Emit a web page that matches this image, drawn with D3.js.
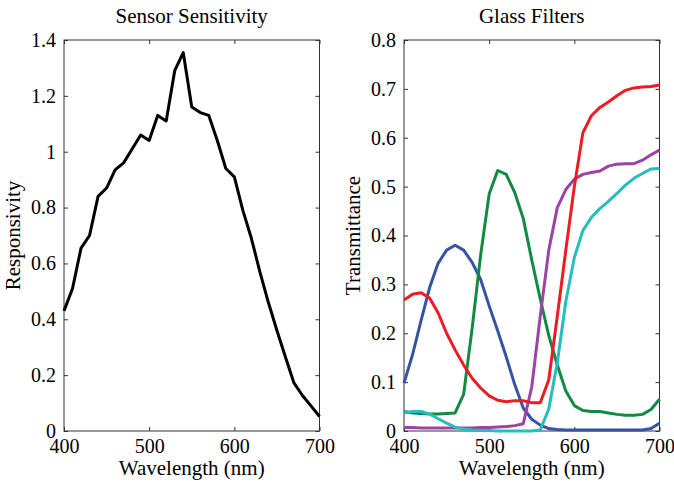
<!DOCTYPE html>
<html>
<head>
<meta charset="utf-8">
<script src="https://cdn.jsdelivr.net/npm/d3@7"></script>
<style>
  body { margin: 0; background: #fff; }
  svg text { font-family: "Liberation Serif", "Times New Roman", serif; fill: #000; }
  .axis path, .axis line { stroke: #333; stroke-width: 1; }
</style>
</head>
<body>
<svg id="chart" width="674" height="485"></svg>
<script>
// wavelength samples (nm)
var wavelengths = [400,410,420,430,440,450,460,470,480,490,500,510,520,530,540,550,560,570,580,590,600,610,620,630,640,650,660,670,680,690,700];

// left panel
var sensor = [0.43,0.51,0.655,0.70,0.84,0.87,0.935,0.96,1.01,1.06,1.04,1.13,1.11,1.29,1.355,1.16,1.14,1.13,1.04,0.94,0.91,0.79,0.69,0.57,0.46,0.36,0.265,0.172,0.127,0.09,0.052];

// right panel, one array per filter
var blueFilter   = [0.098,0.156,0.226,0.293,0.343,0.37,0.38,0.37,0.345,0.31,0.256,0.205,0.152,0.095,0.047,0.024,0.012,0.005,0.003,0.002,0.002,0.002,0.002,0.002,0.002,0.002,0.002,0.002,0.002,0.005,0.016];
var greenFilter  = [0.04,0.037,0.036,0.035,0.035,0.036,0.037,0.075,0.21,0.36,0.485,0.533,0.525,0.488,0.435,0.35,0.27,0.195,0.135,0.082,0.052,0.042,0.04,0.04,0.037,0.034,0.032,0.032,0.034,0.044,0.065];
var redFilter    = [0.268,0.28,0.283,0.272,0.242,0.2,0.166,0.135,0.108,0.088,0.072,0.063,0.06,0.062,0.062,0.058,0.058,0.105,0.235,0.37,0.5,0.61,0.645,0.662,0.673,0.686,0.697,0.702,0.704,0.705,0.708];
var purpleFilter = [0.007,0.007,0.006,0.006,0.006,0.006,0.006,0.006,0.006,0.007,0.007,0.008,0.009,0.011,0.015,0.09,0.235,0.37,0.457,0.494,0.515,0.525,0.529,0.532,0.542,0.546,0.547,0.547,0.554,0.565,0.575];
var cyanFilter   = [0.037,0.04,0.04,0.035,0.025,0.016,0.008,0.004,0.002,0.001,0.001,0,0,0,0,0,0.002,0.045,0.14,0.265,0.355,0.41,0.437,0.455,0.47,0.486,0.503,0.517,0.527,0.536,0.537];

var xTicks = [400,500,600,700];
var sensorTicks = [0,0.2,0.4,0.6,0.8,1,1.2,1.4];
var filterTicks = [0,0.1,0.2,0.3,0.4,0.5,0.6,0.7,0.8];

var svg = d3.select('#chart');

function drawPanel(opts) {
  var g = svg.append('g');
  var x = d3.scaleLinear().domain([400, 700]).range([opts.left, opts.left + 255.5]);
  var y = d3.scaleLinear().domain([0, opts.ymax]).range([431, 40]);

  // box
  g.append('rect')
    .attr('x', x(400)).attr('y', y(opts.ymax))
    .attr('width', x(700) - x(400)).attr('height', y(0) - y(opts.ymax))
    .attr('fill', 'none').attr('stroke', '#333');

  var fmt = function(d){ return d === 0 ? '0' : String(d); };

  var bottom = g.append('g').attr('class', 'axis')
    .attr('transform', 'translate(0,' + y(0) + ')')
    .call(d3.axisBottom(x).tickValues(xTicks).tickSizeInner(-4).tickSizeOuter(0).tickPadding(7));
  bottom.selectAll('text').attr('font-size', 20).attr('dy', '0.75em');

  g.append('g').attr('class', 'axis')
    .attr('transform', 'translate(0,' + y(opts.ymax) + ')')
    .call(d3.axisTop(x).tickValues(xTicks).tickSizeInner(-4).tickSizeOuter(0).tickFormat(''));

  var left = g.append('g').attr('class', 'axis')
    .attr('transform', 'translate(' + x(400) + ',0)')
    .call(d3.axisLeft(y).tickValues(opts.ticks).tickSizeInner(-4).tickSizeOuter(0).tickPadding(8).tickFormat(fmt));
  left.selectAll('text').attr('font-size', 20);

  g.append('g').attr('class', 'axis')
    .attr('transform', 'translate(' + x(700) + ',0)')
    .call(d3.axisRight(y).tickValues(opts.ticks).tickSizeInner(-4).tickSizeOuter(0).tickFormat(''));

  g.selectAll('.axis .domain').remove();

  var line = d3.line()
    .x(function(d, i){ return x(wavelengths[i]); })
    .y(function(d){ return y(d); });

  opts.series.forEach(function(s){
    g.append('path')
      .datum(s.values)
      .attr('d', line)
      .attr('fill', 'none')
      .attr('stroke', s.color)
      .attr('stroke-width', 3)
      .attr('stroke-linejoin', 'round');
  });

  g.append('text')
    .attr('x', (x(400) + x(700)) / 2).attr('y', 23)
    .attr('text-anchor', 'middle').attr('font-size', 21)
    .text(opts.title);

  g.append('text')
    .attr('x', (x(400) + x(700)) / 2).attr('y', 475)
    .attr('text-anchor', 'middle').attr('font-size', 21)
    .text('Wavelength (nm)');

  g.append('text')
    .attr('transform', 'translate(' + (opts.left - 44) + ',' + ((y(0) + y(opts.ymax)) / 2) + ') rotate(-90)')
    .attr('text-anchor', 'middle').attr('font-size', 21)
    .text(opts.ylabel);
}

drawPanel({
  left: 64, ymax: 1.4, ticks: sensorTicks,
  title: 'Sensor Sensitivity', ylabel: 'Responsivity',
  series: [{ values: sensor, color: '#000' }]
});

drawPanel({
  left: 404, ymax: 0.8, ticks: filterTicks,
  title: 'Glass Filters', ylabel: 'Transmittance',
  series: [
    { values: blueFilter, color: '#3953a4' },
    { values: greenFilter, color: '#138a43' },
    { values: purpleFilter, color: '#9b44a6' },
    { values: cyanFilter, color: '#26bdbd' },
    { values: redFilter, color: '#ed1c24' }
  ]
});
</script>
</body>
</html>
